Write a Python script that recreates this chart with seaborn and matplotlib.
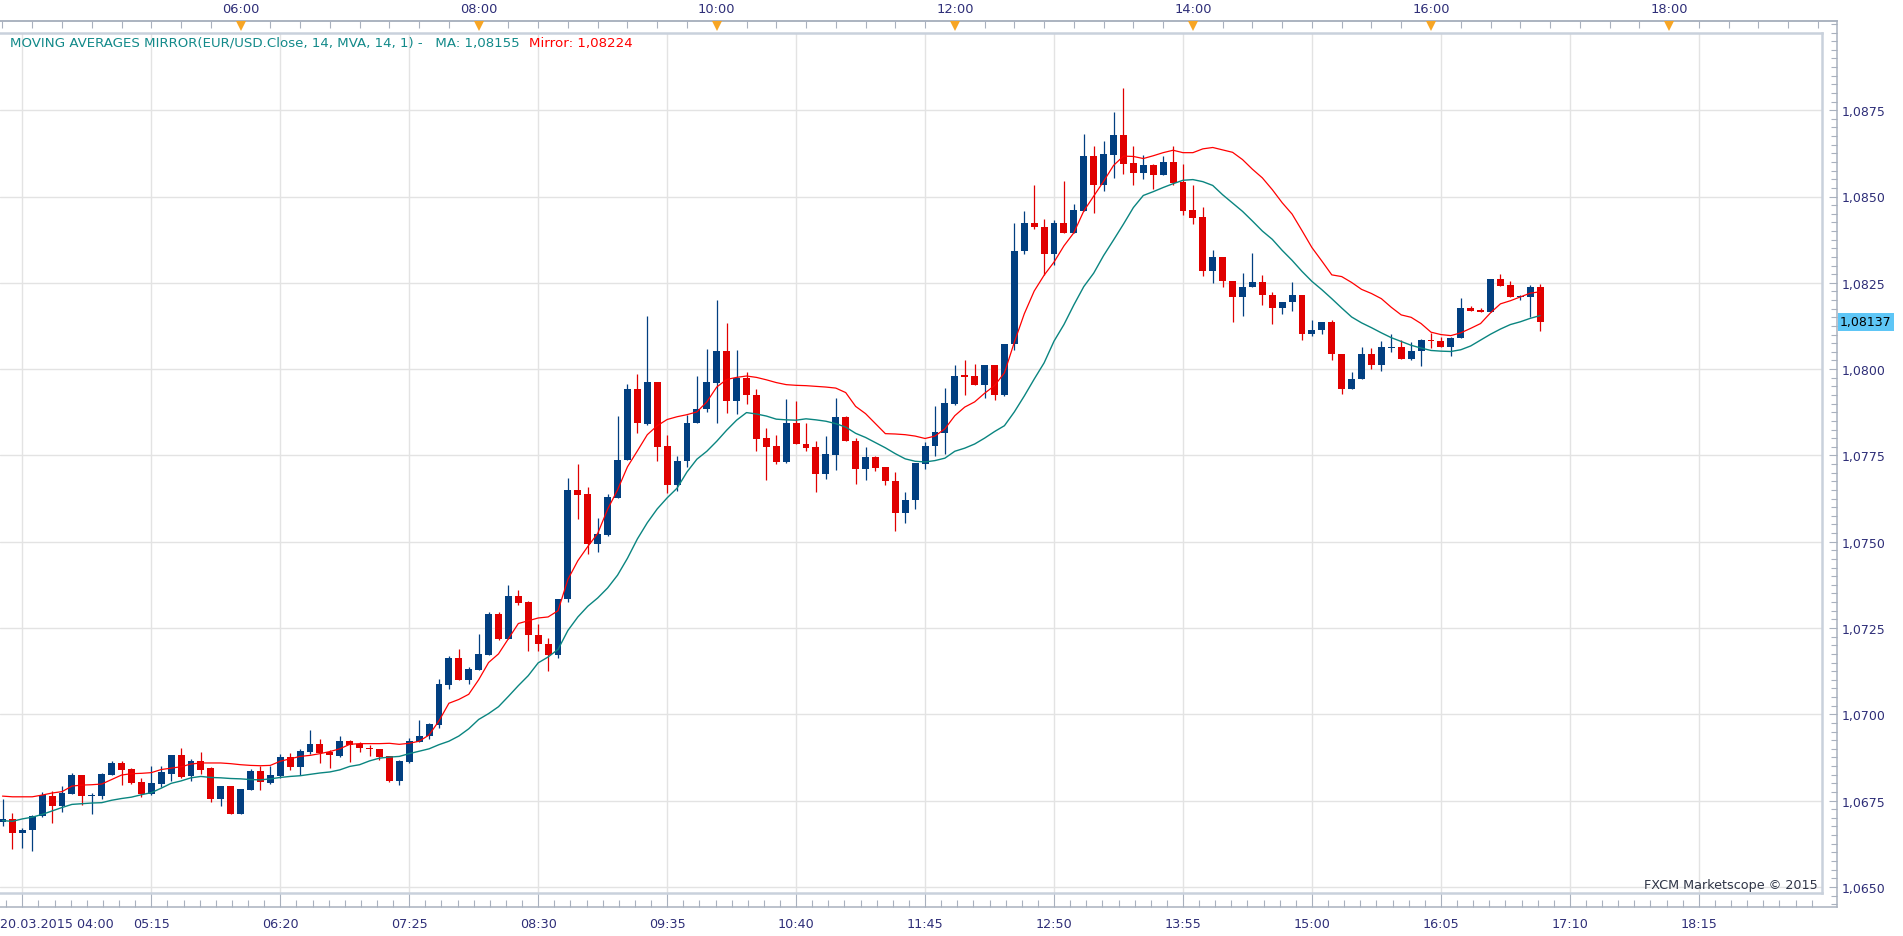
import numpy as np
import pandas as pd
import matplotlib
matplotlib.use("Agg")
import matplotlib.pyplot as plt
from matplotlib.transforms import blended_transform_factory
import seaborn as sns

# ---------------- data (EUR/USD, 5-minute bars, 20.03.2015 from 04:00) ----------------
session_start = "04:00"
bar_minutes = 5

opens = [1.06688, 1.06698, 1.06655, 1.06664, 1.06705, 1.06763, 1.06734, 1.06770, 1.06825, 1.06762,
         1.06762, 1.06825, 1.06860, 1.06842, 1.06805, 1.06770, 1.06799, 1.06828, 1.06883, 1.06820,
         1.06865, 1.06843, 1.06756, 1.06793, 1.06712, 1.06780, 1.06835, 1.06802, 1.06822, 1.06877,
         1.06848, 1.06892, 1.06914, 1.06892, 1.06880, 1.06923, 1.06913, 1.06903, 1.06900, 1.06879,
         1.06806, 1.06863, 1.06921, 1.06936, 1.06969, 1.07086, 1.07163, 1.07100, 1.07129, 1.07173,
         1.07292, 1.07219, 1.07344, 1.07324, 1.07231, 1.07204, 1.07171, 1.07333, 1.07651, 1.07637,
         1.07493, 1.07518, 1.07628, 1.07736, 1.07943, 1.07840, 1.07963, 1.07776, 1.07664, 1.07733,
         1.07843, 1.07883, 1.07961, 1.08051, 1.07909, 1.07974, 1.07926, 1.07799, 1.07776, 1.07731,
         1.07845, 1.07784, 1.07774, 1.07696, 1.07750, 1.07860, 1.07793, 1.07710, 1.07744, 1.07715,
         1.07677, 1.07583, 1.07620, 1.07724, 1.07776, 1.07816, 1.07900, 1.07982, 1.07979, 1.07953,
         1.08013, 1.07924, 1.08072, 1.08341, 1.08424, 1.08413, 1.08332, 1.08424, 1.08395, 1.08459,
         1.08616, 1.08534, 1.08621, 1.08679, 1.08598, 1.08569, 1.08592, 1.08563, 1.08601, 1.08543,
         1.08462, 1.08442, 1.08285, 1.08325, 1.08256, 1.08208, 1.08237, 1.08253, 1.08216, 1.08176,
         1.08193, 1.08216, 1.08101, 1.08112, 1.08137, 1.08044, 1.07941, 1.07971, 1.08045, 1.08011,
         1.08062, 1.08065, 1.08030, 1.08052, 1.08085, 1.08082, 1.08063, 1.08089, 1.08178, 1.08170,
         1.08164, 1.08262, 1.08244, 1.08208, 1.08210, 1.08238]

highs = [1.06754, 1.06715, 1.06672, 1.06708, 1.06775, 1.06779, 1.06792, 1.06831, 1.06825, 1.06773,
         1.06831, 1.06865, 1.06866, 1.06845, 1.06816, 1.06850, 1.06851, 1.06883, 1.06903, 1.06871,
         1.06892, 1.06847, 1.06793, 1.06793, 1.06783, 1.06842, 1.06849, 1.06849, 1.06886, 1.06887,
         1.06900, 1.06955, 1.06929, 1.06898, 1.06937, 1.06926, 1.06921, 1.06911, 1.06900, 1.06879,
         1.06869, 1.06932, 1.06984, 1.06975, 1.07102, 1.07170, 1.07189, 1.07137, 1.07233, 1.07297,
         1.07297, 1.07374, 1.07361, 1.07329, 1.07263, 1.07222, 1.07335, 1.07685, 1.07726, 1.07659,
         1.07570, 1.07637, 1.07863, 1.07958, 1.07987, 1.08155, 1.07963, 1.07810, 1.07747, 1.07866,
         1.07981, 1.08059, 1.08200, 1.08134, 1.08054, 1.07993, 1.07941, 1.07830, 1.07810, 1.07912,
         1.07909, 1.07845, 1.07791, 1.07805, 1.07917, 1.07864, 1.07799, 1.07773, 1.07749, 1.07715,
         1.07703, 1.07643, 1.07727, 1.07788, 1.07894, 1.07944, 1.08013, 1.08027, 1.08015, 1.08013,
         1.08013, 1.08073, 1.08424, 1.08458, 1.08532, 1.08436, 1.08433, 1.08546, 1.08479, 1.08682,
         1.08645, 1.08662, 1.08746, 1.08813, 1.08645, 1.08621, 1.08595, 1.08618, 1.08647, 1.08595,
         1.08534, 1.08471, 1.08345, 1.08325, 1.08256, 1.08279, 1.08337, 1.08273, 1.08224, 1.08195,
         1.08253, 1.08216, 1.08143, 1.08137, 1.08143, 1.08044, 1.07992, 1.08065, 1.08060, 1.08082,
         1.08103, 1.08085, 1.08079, 1.08088, 1.08106, 1.08094, 1.08094, 1.08207, 1.08184, 1.08178,
         1.08262, 1.08276, 1.08256, 1.08216, 1.08244, 1.08247]

lows = [1.06676, 1.06609, 1.06612, 1.06604, 1.06703, 1.06684, 1.06716, 1.06768, 1.06736, 1.06712,
        1.06754, 1.06823, 1.06794, 1.06799, 1.06759, 1.06765, 1.06789, 1.06808, 1.06816, 1.06806,
        1.06827, 1.06745, 1.06735, 1.06712, 1.06712, 1.06780, 1.06780, 1.06797, 1.06816, 1.06840,
        1.06823, 1.06886, 1.06860, 1.06845, 1.06877, 1.06861, 1.06890, 1.06880, 1.06869, 1.06804,
        1.06794, 1.06859, 1.06919, 1.06927, 1.06961, 1.07073, 1.07100, 1.07089, 1.07129, 1.07173,
        1.07214, 1.07219, 1.07316, 1.07182, 1.07182, 1.07124, 1.07163, 1.07326, 1.07566, 1.07463,
        1.07471, 1.07516, 1.07628, 1.07736, 1.07814, 1.07837, 1.07733, 1.07640, 1.07647, 1.07715,
        1.07843, 1.07876, 1.07843, 1.07873, 1.07871, 1.07900, 1.07762, 1.07680, 1.07724, 1.07728,
        1.07782, 1.07762, 1.07643, 1.07683, 1.07709, 1.07791, 1.07667, 1.07678, 1.07705, 1.07664,
        1.07531, 1.07553, 1.07594, 1.07712, 1.07748, 1.07755, 1.07897, 1.07926, 1.07953, 1.07916,
        1.07911, 1.07922, 1.08054, 1.08332, 1.08405, 1.08274, 1.08303, 1.08395, 1.08395, 1.08459,
        1.08453, 1.08517, 1.08555, 1.08566, 1.08534, 1.08552, 1.08523, 1.08563, 1.08532, 1.08445,
        1.08421, 1.08271, 1.08248, 1.08237, 1.08135, 1.08153, 1.08237, 1.08185, 1.08132, 1.08161,
        1.08167, 1.08083, 1.08095, 1.08103, 1.08025, 1.07927, 1.07941, 1.07971, 1.08000, 1.07994,
        1.08049, 1.08030, 1.08026, 1.08008, 1.08060, 1.08063, 1.08037, 1.08089, 1.08167, 1.08164,
        1.08164, 1.08242, 1.08208, 1.08199, 1.08150, 1.08109]

closes = [1.06698, 1.06655, 1.06666, 1.06706, 1.06765, 1.06734, 1.06773, 1.06825, 1.06762, 1.06764,
          1.06828, 1.06860, 1.06840, 1.06802, 1.06770, 1.06802, 1.06832, 1.06883, 1.06818, 1.06865,
          1.06840, 1.06756, 1.06793, 1.06712, 1.06783, 1.06835, 1.06804, 1.06825, 1.06877, 1.06848,
          1.06894, 1.06914, 1.06888, 1.06881, 1.06923, 1.06911, 1.06901, 1.06900, 1.06876, 1.06806,
          1.06865, 1.06923, 1.06937, 1.06972, 1.07088, 1.07163, 1.07100, 1.07131, 1.07175, 1.07291,
          1.07219, 1.07344, 1.07322, 1.07229, 1.07203, 1.07171, 1.07335, 1.07651, 1.07635, 1.07493,
          1.07521, 1.07630, 1.07738, 1.07943, 1.07843, 1.07963, 1.07774, 1.07664, 1.07735, 1.07845,
          1.07885, 1.07963, 1.08051, 1.07909, 1.07974, 1.07924, 1.07797, 1.07774, 1.07731, 1.07845,
          1.07782, 1.07771, 1.07696, 1.07753, 1.07860, 1.07791, 1.07710, 1.07744, 1.07713, 1.07675,
          1.07583, 1.07622, 1.07727, 1.07778, 1.07819, 1.07903, 1.07981, 1.07976, 1.07953, 1.08013,
          1.07924, 1.08073, 1.08342, 1.08424, 1.08411, 1.08332, 1.08424, 1.08395, 1.08462, 1.08616,
          1.08534, 1.08624, 1.08679, 1.08595, 1.08569, 1.08592, 1.08563, 1.08601, 1.08540, 1.08459,
          1.08439, 1.08285, 1.08325, 1.08254, 1.08208, 1.08239, 1.08253, 1.08214, 1.08176, 1.08195,
          1.08216, 1.08101, 1.08114, 1.08137, 1.08043, 1.07941, 1.07972, 1.08045, 1.08011, 1.08065,
          1.08065, 1.08030, 1.08053, 1.08085, 1.08080, 1.08063, 1.08091, 1.08178, 1.08167, 1.08164,
          1.08262, 1.08242, 1.08208, 1.08213, 1.08238, 1.08137]

ma_values = [1.06692, 1.06690, 1.06697, 1.06702, 1.06710, 1.06720, 1.06730, 1.06739, 1.06741, 1.06743,
             1.06744, 1.06751, 1.06756, 1.06760, 1.06767, 1.06773, 1.06786, 1.06800, 1.06807, 1.06816,
             1.06820, 1.06817, 1.06816, 1.06814, 1.06813, 1.06811, 1.06810, 1.06813, 1.06817, 1.06820,
             1.06822, 1.06826, 1.06830, 1.06833, 1.06839, 1.06849, 1.06854, 1.06865, 1.06873, 1.06876,
             1.06878, 1.06886, 1.06893, 1.06900, 1.06912, 1.06922, 1.06937, 1.06958, 1.06985, 1.07002,
             1.07022, 1.07052, 1.07083, 1.07112, 1.07149, 1.07166, 1.07188, 1.07243, 1.07282, 1.07313,
             1.07337, 1.07366, 1.07403, 1.07452, 1.07508, 1.07555, 1.07595, 1.07627, 1.07655, 1.07702,
             1.07739, 1.07762, 1.07791, 1.07823, 1.07852, 1.07874, 1.07870, 1.07864, 1.07855, 1.07853,
             1.07852, 1.07856, 1.07853, 1.07849, 1.07842, 1.07832, 1.07814, 1.07802, 1.07787, 1.07772,
             1.07755, 1.07740, 1.07733, 1.07731, 1.07735, 1.07742, 1.07762, 1.07771, 1.07783, 1.07800,
             1.07819, 1.07836, 1.07876, 1.07922, 1.07971, 1.08018, 1.08081, 1.08129, 1.08186, 1.08239,
             1.08278, 1.08329, 1.08374, 1.08420, 1.08468, 1.08503, 1.08514, 1.08526, 1.08537, 1.08547,
             1.08549, 1.08543, 1.08532, 1.08505, 1.08481, 1.08457, 1.08429, 1.08400, 1.08376, 1.08344,
             1.08315, 1.08283, 1.08254, 1.08230, 1.08204, 1.08177, 1.08151, 1.08134, 1.08120, 1.08105,
             1.08091, 1.08080, 1.08069, 1.08061, 1.08054, 1.08052, 1.08051, 1.08056, 1.08067, 1.08084,
             1.08101, 1.08116, 1.08129, 1.08137, 1.08147, 1.08155]

mirror_values = [1.06763, 1.06761, 1.06761, 1.06761, 1.06766, 1.06772, 1.06776, 1.06792, 1.06795, 1.06796,
                 1.06798, 1.06811, 1.06824, 1.06828, 1.06829, 1.06831, 1.06840, 1.06844, 1.06848, 1.06856,
                 1.06859, 1.06859, 1.06859, 1.06857, 1.06854, 1.06852, 1.06851, 1.06852, 1.06864, 1.06871,
                 1.06878, 1.06881, 1.06886, 1.06892, 1.06900, 1.06913, 1.06915, 1.06915, 1.06915, 1.06916,
                 1.06913, 1.06916, 1.06922, 1.06940, 1.06981, 1.07032, 1.07043, 1.07058, 1.07100, 1.07150,
                 1.07175, 1.07219, 1.07263, 1.07271, 1.07279, 1.07282, 1.07300, 1.07391, 1.07445, 1.07486,
                 1.07524, 1.07594, 1.07650, 1.07717, 1.07763, 1.07810, 1.07836, 1.07854, 1.07862, 1.07868,
                 1.07876, 1.07905, 1.07948, 1.07970, 1.07976, 1.07980, 1.07976, 1.07969, 1.07961, 1.07955,
                 1.07953, 1.07952, 1.07950, 1.07948, 1.07945, 1.07932, 1.07892, 1.07871, 1.07842, 1.07813,
                 1.07812, 1.07810, 1.07806, 1.07799, 1.07806, 1.07827, 1.07865, 1.07890, 1.07905, 1.07930,
                 1.07952, 1.07989, 1.08078, 1.08160, 1.08226, 1.08272, 1.08310, 1.08357, 1.08395, 1.08458,
                 1.08501, 1.08544, 1.08590, 1.08617, 1.08616, 1.08610, 1.08618, 1.08627, 1.08634, 1.08627,
                 1.08627, 1.08638, 1.08642, 1.08635, 1.08628, 1.08607, 1.08579, 1.08554, 1.08520, 1.08482,
                 1.08449, 1.08401, 1.08352, 1.08313, 1.08273, 1.08268, 1.08251, 1.08231, 1.08219, 1.08204,
                 1.08179, 1.08157, 1.08150, 1.08132, 1.08107, 1.08100, 1.08097, 1.08105, 1.08118, 1.08132,
                 1.08163, 1.08189, 1.08198, 1.08209, 1.08220, 1.08224]

top_labels = ["06:00", "08:00", "10:00", "12:00", "14:00", "16:00", "18:00"]
bottom_grid_times = ["04:10", "05:15", "06:20", "07:25", "08:30", "09:35", "10:40",
                     "11:45", "12:50", "13:55", "15:00", "16:05", "17:10", "18:15"]
date_label = "20.03.2015 04:00"
price_ticks = [1.0650, 1.0675, 1.0700, 1.0725, 1.0750, 1.0775, 1.0800, 1.0825, 1.0850, 1.0875]
legend_ma_text = "MOVING AVERAGES MIRROR(EUR/USD.Close, 14, MVA, 14, 1) -   MA: 1,08155"
legend_mirror_text = "Mirror: 1,08224"
last_price = 1.08137
last_price_text = "1,08137"
watermark_text = "FXCM Marketscope \u00a9 2015"

# ---------------- style ----------------
sns.set_style("white")
plt.rcParams['font.family'] = ['DejaVu Sans']

UP = '#023f80'
DOWN = '#e00000'
MA_COL = '#0a8580'
MIR_COL = '#ff0000'
TXT = '#2e2e78'
FRAME = '#a9b1be'
INNER = '#c9d1dc'
GRID = '#e3e3e3'
FS = 9.2

W, H = 1903, 937
fig = plt.figure(figsize=(W / 100, H / 100), dpi=100)
fig.patch.set_facecolor('white')


def rect(x0, y0, x1, y1):
    return [x0 / W, 1 - y1 / H, (x1 - x0) / W, (y1 - y0) / H]


X0_PX, STEP_PX = 2.5, 9.92
PX_PER_PRICE = 86.3 / 0.0025
REF_P, REF_Y = 1.0700, 715.3


def xlim_for(left, right):
    return ((left - X0_PX) / STEP_PX, (right - X0_PX) / STEP_PX)


def ylim_for(top, bottom):
    return (REF_P - (bottom - REF_Y) / PX_PER_PRICE, REF_P + (REF_Y - top) / PX_PER_PRICE)


start_min = int(session_start[:2]) * 60 + int(session_start[3:])


def t2i(s):
    h, m = map(int, s.split(':'))
    return (h * 60 + m - start_min) / bar_minutes


def fmt_price(p, nd=4):
    return f"{p:.{nd}f}".replace('.', ',')


# ---------------- outer frame axes (ticks & labels) ----------------
ax_out = fig.add_axes(rect(0, 22, 1837, 908))
ax_out.set_facecolor('white')
ax_out.set_xlim(*xlim_for(0, 1837))
ax_out.set_ylim(*ylim_for(22, 908))
for s in ['top', 'bottom', 'right']:
    ax_out.spines[s].set_color(FRAME)
    ax_out.spines[s].set_linewidth(1.1)
ax_out.spines['left'].set_visible(False)

grid_pos = [t2i(t) for t in bottom_grid_times]
ax_out.set_xticks(grid_pos)
ax_out.set_xticklabels([""] + bottom_grid_times[1:])
minor_b = []
for a, b in zip(grid_pos[:-1], grid_pos[1:]):
    minor_b += list(np.linspace(a, b, 9)[1:-1])
minor_b += list(np.arange(grid_pos[0], -1, -13 / 8))[1:]
minor_b += [grid_pos[-1] + k * 13 / 8 for k in range(1, 8)]
ax_out.set_xticks(minor_b, minor=True)
ax_out.tick_params(axis='x', which='major', direction='in', length=12, width=0.8, color=FRAME,
                   labelsize=FS, labelcolor=TXT, pad=7.5, bottom=True, top=False)
ax_out.tick_params(axis='x', which='minor', direction='in', length=5, width=0.8, color=FRAME,
                   bottom=True, top=False)

ax_out.yaxis.tick_right()
ax_out.set_yticks(price_ticks)
ax_out.set_yticklabels([fmt_price(p) for p in price_ticks])
ax_out.set_yticks(np.arange(1.0645, 1.0902, 0.00025), minor=True)
ax_out.tick_params(axis='y', which='major', direction='in', length=6, width=0.8, color=FRAME,
                   labelsize=FS - 0.2, labelcolor=TXT, pad=3.6, right=True, left=False)
ax_out.tick_params(axis='y', which='minor', direction='in', length=4, width=0.8, color=FRAME,
                   right=True, left=False)

ax_top = ax_out.twiny()
ax_top.set_xlim(ax_out.get_xlim())
for s in ['bottom', 'left', 'right']:
    ax_top.spines[s].set_visible(False)
ax_top.spines['top'].set_color(FRAME)
ax_top.spines['top'].set_linewidth(1.1)
top_pos = [t2i(t) for t in top_labels]
ax_top.set_xticks(top_pos)
ax_top.set_xticklabels(top_labels)
ax_top.set_xticks(np.arange(0, 185, 3), minor=True)
ax_top.tick_params(axis='x', which='major', direction='in', length=0, labelsize=FS + 0.2, labelcolor=TXT, pad=4.5)
ax_top.tick_params(axis='x', which='minor', direction='in', length=5, width=0.8, color=FRAME)

tri_tr = blended_transform_factory(ax_top.transData, fig.transFigure)
ax_top.plot(top_pos, [1 - 26.5 / H] * len(top_pos), linestyle='none', marker='v',
            markersize=7.5, color='#f7a524', markeredgewidth=0, transform=tri_tr, clip_on=False, zorder=10)

# last price tag
tag_tr = blended_transform_factory(ax_out.transAxes, ax_out.transData)
ax_out.text(1.0 + 3.0 / 1837, last_price, last_price_text, transform=tag_tr, ha='left', va='center',
            fontsize=FS - 0.2, color='black', zorder=12,
            bbox=dict(boxstyle='square,pad=0.2', facecolor='#5ec6f6', edgecolor='none'))

# ---------------- inner plot axes ----------------
ax = fig.add_axes(rect(0, 34, 1822, 894))
ax.set_zorder(ax_out.get_zorder() + 2)
ax.set_facecolor('white')
ax.set_xlim(*xlim_for(0, 1822))
ax.set_ylim(*ylim_for(34, 894))
ax.set_xticks(grid_pos)
ax.set_yticks(price_ticks)
ax.grid(True, color=GRID, linewidth=1.0, zorder=0)
ax.tick_params(length=0, labelbottom=False, labelleft=False)
for s in ['top', 'bottom', 'right']:
    ax.spines[s].set_color(INNER)
    ax.spines[s].set_linewidth(1.8)
ax.spines['left'].set_visible(False)

df = pd.DataFrame({'i': np.arange(len(opens)), 'open': opens, 'high': highs,
                   'low': lows, 'close': closes, 'ma': ma_values, 'mirror': mirror_values})
df['up'] = df['close'] >= df['open']
colors = np.where(df['up'], UP, DOWN)
body_low = np.minimum(df['open'], df['close'])
body_h = np.maximum(np.abs(df['close'] - df['open']), 1.1 / PX_PER_PRICE)

ax.vlines(df['i'], df['low'], df['high'], colors=colors, linewidth=0.9, zorder=2)
ax.bar(df['i'], body_h, bottom=body_low, width=0.7, color=colors, linewidth=0, zorder=3)

sns.lineplot(x=df['i'].values, y=df['ma'].values, ax=ax, color=MA_COL, linewidth=1.0, zorder=4)
sns.lineplot(x=df['i'].values, y=df['mirror'].values, ax=ax, color=MIR_COL, linewidth=0.9, zorder=5)
ax.set_xlabel("")
ax.set_ylabel("")
ax.set_xlim(*xlim_for(0, 1822))
ax.set_ylim(*ylim_for(34, 894))

# ---------------- texts ----------------
LFS = 9.6
t1 = fig.text(10 / W, 1 - 43 / H, legend_ma_text, color='#138a8a', fontsize=LFS, ha='left', va='center', zorder=20)
fig.canvas.draw()
bb = t1.get_window_extent()
fig.text((bb.x1 + 9) / W, 1 - 43 / H, legend_mirror_text, color=MIR_COL, fontsize=LFS, ha='left', va='center', zorder=20)

fig.text(0.5 / W, 1 - 925 / H, date_label, color=TXT, fontsize=FS, ha='left', va='center')
fig.text(1818 / W, 1 - 886 / H, watermark_text, color='#2f3547', fontsize=FS, ha='right', va='center', zorder=20)

fig.savefig("out.png", dpi=100, facecolor='white')
